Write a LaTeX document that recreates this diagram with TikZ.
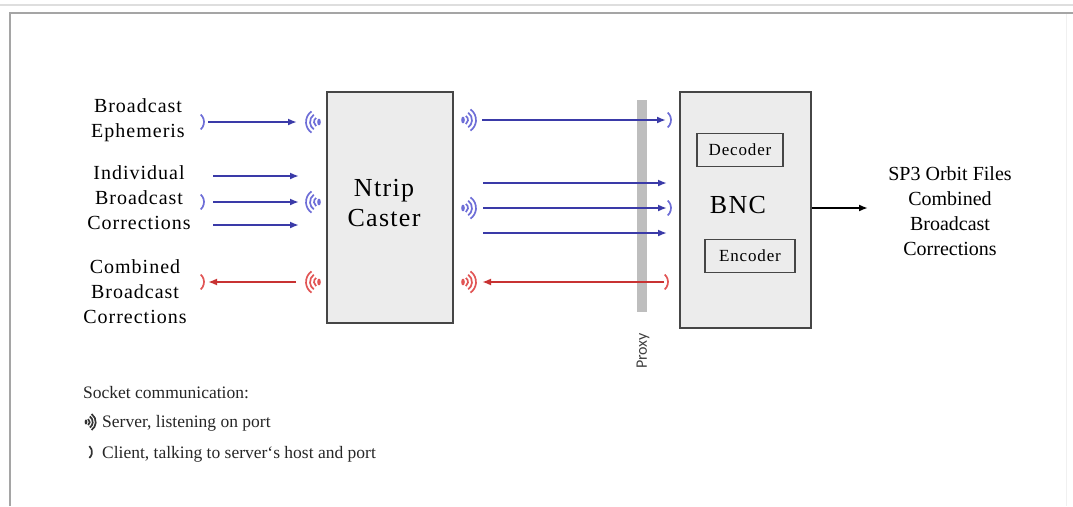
\documentclass[tikz,border=0pt]{standalone}
\usepackage{fontspec}
\setmainfont{Liberation Serif}
\newfontfamily\lsf[LetterSpace=5]{Liberation Serif}
\newfontfamily\carl{Carlito}
\usetikzlibrary{arrows.meta}
\definecolor{arrblue}{RGB}{58,58,168}
\definecolor{icoblue}{RGB}{110,110,215}
\definecolor{arrred}{RGB}{200,50,50}
\definecolor{icored}{RGB}{225,85,85}
\definecolor{boxfill}{RGB}{236,236,236}
\definecolor{boxline}{RGB}{70,70,70}
\definecolor{proxygray}{RGB}{190,190,190}
\begin{document}
\begin{tikzpicture}[x=1pt,y=-1pt,
  lbl/.style={align=center,font=\lsf\fontsize{20}{25}\selectfont,inner sep=0},
  legtxt/.style={anchor=base west,font=\fontsize{17.5}{20}\selectfont,inner sep=0,text=black!85},
  bigbox/.style={draw=boxline,line width=1.8pt,fill=boxfill,inner sep=0},
  subbox/.style={draw=boxline,line width=1.8pt,fill=boxfill,inner sep=0,font=\lsf\fontsize{17}{20}\selectfont},
  bluearr/.style={draw=arrblue,line width=1.8pt,-{Latex[length=9pt,width=7pt]}},
  redarr/.style={draw=arrred,line width=1.8pt,-{Latex[length=9pt,width=7pt]}},
  srv/.pic={
    \fill (0,0) ellipse (1.8 and 3.4);
    \foreach \r in {5,9,13} \draw[line width=1.7pt] (-55:\r) arc[start angle=-55,end angle=55,radius=\r];
  },
  cli/.pic={
    \draw[line width=1.7pt] (-48:10) arc[start angle=-48,end angle=48,radius=10];
  }
]
\useasboundingbox (0,0) rectangle (1073,506);
% frame
\draw[draw={rgb,255:red,222;green,222;blue,222},line width=1.2pt] (0,5) -- (1073,5);
\draw[draw={rgb,255:red,165;green,165;blue,165},line width=2.2pt] (10,506) -- (10,13) -- (1073,13);
\draw[draw={rgb,255:red,240;green,240;blue,240},line width=1pt] (1066,14) -- (1066,506);

% main boxes
\node[bigbox,minimum width=126pt,minimum height=231pt] (caster) at (390,207.5) {};
\node[font=\lsf\fontsize{26}{30}\selectfont,align=center,inner sep=0] (castertxt) at (384,203) {Ntrip\\Caster};
\node[bigbox,minimum width=131pt,minimum height=236pt] (bnc) at (745.5,210) {};
\node[font=\lsf\fontsize{26}{30}\selectfont,inner sep=0] (bnctxt) at (738,205) {BNC};
\node[subbox,minimum width=86pt,minimum height=33pt] (dec) at (740,150) {Decoder};
\node[subbox,minimum width=90pt,minimum height=33pt] (enc) at (750,256) {Encoder};

% proxy
\node[fill=proxygray,minimum width=10pt,minimum height=212pt,inner sep=0] (proxy) at (642,206) {};
\node[rotate=90,font=\carl\fontsize{16}{18}\selectfont,text=black!75,inner sep=0] (proxytxt) at (643,351) {Proxy};

% left labels
\node[lbl] (be) at (138,120) {Broadcast\\Ephemeris};
\node[lbl] (ibc) at (139,198) {Individual\\Broadcast\\Corrections};
\node[lbl] (cbc) at (135,292) {Combined\\Broadcast\\Corrections};

% right output text
\node[align=center,font=\fontsize{20}{25}\selectfont,inner sep=0] (out) at (950,211) {SP3 Orbit Files\\Combined\\Broadcast\\Corrections};

% left coordinates
\coordinate (a1s) at (208,122); \coordinate (a1e) at (297,122);
\coordinate (a2s) at (213,176); \coordinate (a2e) at (299,176);
\coordinate (a3s) at (213,202); \coordinate (a3e) at (299,202);
\coordinate (a4s) at (213,225); \coordinate (a4e) at (299,225);
\coordinate (a5s) at (296,282); \coordinate (a5e) at (208,282);
% right coordinates
\coordinate (b1s) at (482,120); \coordinate (b1e) at (666,120);
\coordinate (b2s) at (483,183); \coordinate (b2e) at (667,183);
\coordinate (b3s) at (483,208); \coordinate (b3e) at (667,208);
\coordinate (b4s) at (483,233); \coordinate (b4e) at (667,233);
\coordinate (b5s) at (664,282); \coordinate (b5e) at (482,282);
\coordinate (oe) at (868,208);

% left arrows
\draw[bluearr] (a1s) -- (a1e);
\draw[bluearr] (a2s) -- (a2e);
\draw[bluearr] (a3s) -- (a3e);
\draw[bluearr] (a4s) -- (a4e);
\draw[redarr] (a5s) -- (a5e);
% right arrows
\draw[bluearr] (b1s) -- (b1e);
\draw[bluearr] (b2s) -- (b2e);
\draw[bluearr] (b3s) -- (b3e);
\draw[bluearr] (b4s) -- (b4e);
\draw[redarr] (b5s) -- (b5e);
% output
\draw[draw=black,line width=1.8pt,-{Latex[length=9pt,width=7pt]}] (bnc.east |- oe) -- (oe);

% sockets left
\pic[icoblue] at (194,122) {cli};
\pic[icoblue] at (194,202) {cli};
\pic[icored] at (194,282) {cli};
\pic[icoblue,xscale=-1] at (319,122) {srv};
\pic[icoblue,xscale=-1] at (319,202) {srv};
\pic[icored,xscale=-1] at (319,282) {srv};
% sockets right
\pic[icoblue] at (463,120) {srv};
\pic[icoblue] at (463,208) {srv};
\pic[icored] at (463,282) {srv};
\pic[icoblue] at (661,120) {cli};
\pic[icoblue] at (661,208) {cli};
\pic[icored] at (658,282) {cli};

% legend
\node[legtxt] (leg) at (83,398) {Socket communication:};
\pic[black!80,scale=0.75] at (86,422) {srv};
\node[legtxt] (legs) at (102,427) {Server, listening on port};
\pic[black!80,scale=0.8] at (84,452) {cli};
\node[legtxt] (legc) at (102,458) {Client, talking to server`s host and port};
\end{tikzpicture}
\end{document}
